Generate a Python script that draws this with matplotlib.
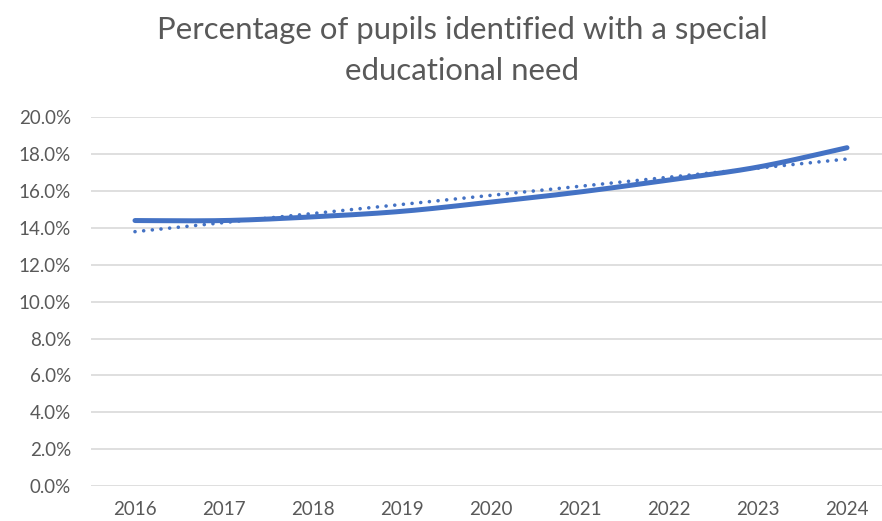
import numpy as np
import matplotlib.pyplot as plt
from matplotlib.ticker import FuncFormatter

# SEN share of all pupils, by year
years = ['2016', '2017', '2018', '2019', '2020', '2021', '2022', '2023', '2024']
sen_pct = [14.4, 14.4, 14.6, 14.9, 15.4, 15.95, 16.6, 17.3, 18.35]

BLUE = '#4472C4'
GREY_TEXT = '#595959'
GRID = '#D9D9D9'
FONT = ['Lato', 'DejaVu Sans']


def smooth(x, y, steps=30):
    # Catmull-Rom style bezier through every point, like a spreadsheet "smoothed line"
    x = np.asarray(x, float)
    y = np.asarray(y, float)
    px = np.concatenate([[x[0]], x, [x[-1]]])
    py = np.concatenate([[y[0]], y, [y[-1]]])
    xs, ys = [], []
    t = np.linspace(0, 1, steps)
    for i in range(1, len(px) - 2):
        p0 = np.array([px[i], py[i]])
        p3 = np.array([px[i + 1], py[i + 1]])
        c1 = p0 + (np.array([px[i + 1], py[i + 1]]) - np.array([px[i - 1], py[i - 1]])) / 6
        c2 = p3 - (np.array([px[i + 2], py[i + 2]]) - np.array([px[i], py[i]])) / 6
        b = ((1 - t) ** 3)[:, None] * p0 + (3 * (1 - t) ** 2 * t)[:, None] * c1 \
            + (3 * (1 - t) * t ** 2)[:, None] * c2 + (t ** 3)[:, None] * p3
        xs.extend(b[:, 0])
        ys.extend(b[:, 1])
    return np.array(xs), np.array(ys)


fig = plt.figure(figsize=(8.82, 5.21), dpi=100)
ax = fig.add_axes([90.5 / 882, 35 / 521, 801 / 882, 368.7 / 521])

xpos = np.arange(len(years))
sx, sy = smooth(xpos, sen_pct)
ax.plot(sx, sy, color=BLUE, lw=3.6, solid_capstyle='round', zorder=3)

# linear trendline
slope, icpt = np.polyfit(xpos, sen_pct, 1)
tx = np.array([xpos[0], xpos[-1]])
ax.plot(tx, slope * tx + icpt, color=BLUE, lw=2.6,
        linestyle=(0, (0.01, 2.4)), dash_capstyle='round', zorder=2)

ax.set_xlim(-0.5, len(years) - 0.5)
ax.set_ylim(0, 20)
ax.set_yticks(np.arange(0, 21, 2))
ax.yaxis.set_major_formatter(FuncFormatter(lambda v, p: f'{v:.1f}%'))
ax.set_xticks(xpos)
ax.set_xticklabels(years)

ax.grid(axis='y', color=GRID, lw=1.2)
ax.set_axisbelow(True)
for s in ax.spines.values():
    s.set_visible(False)
ax.tick_params(axis='both', length=0, labelcolor=GREY_TEXT, labelsize=13.5)
ax.tick_params(axis='y', pad=14)
ax.tick_params(axis='x', pad=11)
for lab in ax.get_xticklabels() + ax.get_yticklabels():
    lab.set_family(FONT)

fig.text(0.524, 0.97, 'Percentage of pupils identified with a special\neducational need',
         ha='center', va='top', fontsize=22.4, color=GREY_TEXT, family=FONT,
         linespacing=1.6)

fig.savefig('out.png', dpi=100)
